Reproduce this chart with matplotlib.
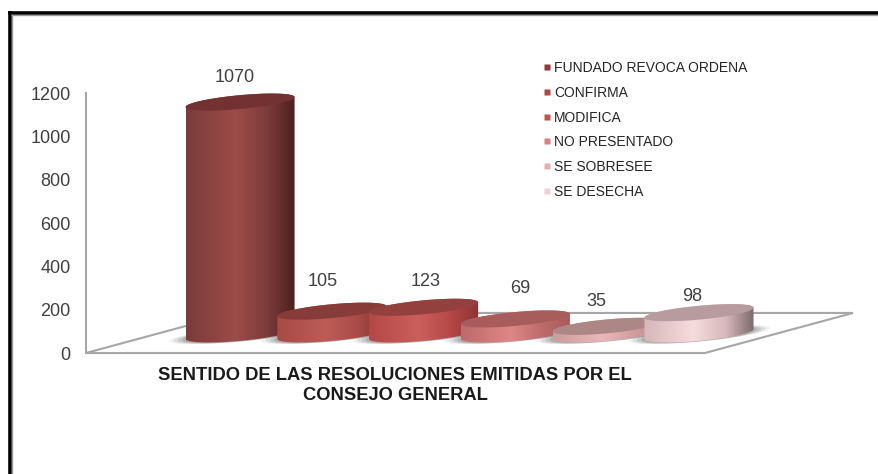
import numpy as np
import matplotlib
matplotlib.use('Agg')
import matplotlib.pyplot as plt
from matplotlib.colors import LinearSegmentedColormap
from matplotlib.lines import Line2D
from matplotlib.patches import PathPatch, Polygon
from matplotlib.path import Path

plt.rcParams['font.family'] = ['Liberation Sans', 'DejaVu Sans']

categories = ['FUNDADO REVOCA ORDENA', 'CONFIRMA', 'MODIFICA',
              'NO PRESENTADO', 'SE SOBRESEE', 'SE DESECHA']
values = [1070, 105, 123, 69, 35, 98]
y_ticks = [0, 200, 400, 600, 800, 1000, 1200]
axis_title = 'SENTIDO DE LAS RESOLUCIONES EMITIDAS POR EL\nCONSEJO GENERAL'

# colores: izquierda, centro, derecha, tapa, leyenda
body_left = ['#7a3b3a', '#a84a46', '#b34846', '#bd6a6a', '#cf9c9c', '#d6b7ba']
body_mid = ['#9d4c49', '#bd5c57', '#cc5f5c', '#df8787', '#eab8b8', '#f7dcdd']
body_right = ['#4c1f1c', '#7e3230', '#8c3331', '#a85a5a', '#b98a8a', '#7d6a6b']
top_colors = ['#733231', '#873c3a', '#93403e', '#a85c5b', '#ad8686', '#b89b9e']
legend_colors = ['#953735', '#b04643', '#c4504d', '#d98080', '#e8aeae', '#f0d0d2']

# ajuste fino de las etiquetas (pixeles)
label_dx = [-5, -9, 2, 5, -11, -7]
label_dy = [25, 30, 26, 30, 25, 16]

W, H = 879, 474
fig = plt.figure(figsize=(W / 100, H / 100), dpi=100)
ax = fig.add_axes([86 / W, (H - 353) / H, 767 / W, 260 / H])

x_lim = (-1.678, 6.678)
y_lim = (0, 1200)

base = 88      # centro de la base sobre el piso
half_w = 0.594
half_h = 32
tilt = 23


def ring(cx, cy, t, grow=1.0):
    return (cx + grow * half_w * np.cos(t),
            cy + half_h * np.sin(t) + grow * tilt * np.cos(t))


def draw_cylinder(i, value):
    z = 3 + i
    top = base + value
    t = np.linspace(0, 2 * np.pi, 120)

    # sombra difusa
    for grow, alpha in zip([1.30, 1.22, 1.14, 1.06], [0.08, 0.12, 0.16, 0.20]):
        xs, ys = ring(i, base - 3, t, grow)
        ax.add_patch(Polygon(np.column_stack([xs, ys]), closed=True, fc='#555555',
                             ec='none', alpha=alpha, zorder=2))

    t1 = np.linspace(np.pi, 2 * np.pi, 60)
    t2 = np.linspace(0, np.pi, 60)
    xb, yb = ring(i, base, t1)
    xt, yt = ring(i, top, t2)
    verts = np.column_stack([np.r_[xb, xt], np.r_[yb, yt]])
    clip = PathPatch(Path(np.r_[verts, verts[:1]], closed=True), fc='none', ec='none', zorder=z)
    ax.add_patch(clip)

    cmap = LinearSegmentedColormap.from_list(
        'body', [(0, body_left[i]), (0.45, body_mid[i]), (0.75, body_left[i]), (1, body_right[i])])
    grad = np.linspace(0, 1, 200).reshape(1, -1)
    im = ax.imshow(grad, cmap=cmap, aspect='auto', interpolation='bilinear', zorder=z,
                   extent=(i - half_w, i + half_w, base - half_h - tilt, top + half_h + tilt))
    im.set_clip_path(clip)

    xc, yc = ring(i, top, t)
    ax.add_patch(Polygon(np.column_stack([xc, yc]), closed=True, fc=top_colors[i], ec='none', zorder=z + 0.1))

    ax.annotate(str(value), (i, top), xytext=(label_dx[i] * 0.72, label_dy[i] * 0.72),
                textcoords='offset points', ha='center', va='center',
                fontsize=13, color='#404040', zorder=20)


# piso
ax.add_patch(Polygon([(0, 0), (0.807, 0), (1, 0.154), (0.193, 0.154)], closed=True,
                     transform=ax.transAxes, fc='white', ec='#a6a6a6', lw=1.5, zorder=1,
                     clip_on=False))

for i, v in enumerate(values):
    draw_cylinder(i, v)

ax.set_xlim(x_lim)
ax.set_ylim(y_lim)
ax.set_xticks([])
ax.set_yticks(y_ticks)
ax.tick_params(axis='y', length=0, pad=11, labelsize=13, labelcolor='#404040')
for side in ['top', 'right', 'bottom']:
    ax.spines[side].set_visible(False)
ax.spines['left'].set_color('#a6a6a6')
ax.spines['left'].set_linewidth(1.5)
ax.patch.set_alpha(0)

ax.set_xlabel(axis_title, x=(395 - 86) / 767, fontsize=13.2, fontweight='bold', color='#1a1a1a',
              labelpad=10, linespacing=1.22)

handles = [Line2D([], [], ls='none', marker='s', ms=5, mfc=c, mec='none') for c in legend_colors]
fig.legend(handles, categories, loc='upper left', bbox_to_anchor=(542 / W, 1 - 61 / H),
           frameon=False, fontsize=10, labelcolor='#262626', handlelength=0.7,
           handletextpad=0.15, labelspacing=0.775, borderpad=0, borderaxespad=0)

# marco de la imagen
fig.add_artist(Line2D([9.5 / W, 9.5 / W], [0, 1 - 11 / H], color='black', lw=2.6, solid_capstyle='butt'))
fig.add_artist(Line2D([8 / W, 1], [1 - 12.5 / H, 1 - 12.5 / H], color='black', lw=2.6, solid_capstyle='butt'))
fig.add_artist(Line2D([12 / W, 12 / W], [0, 1 - 14 / H], color='#9a9a9a', lw=1.0, solid_capstyle='butt'))
fig.add_artist(Line2D([11 / W, 1], [1 - 15 / H, 1 - 15 / H], color='#9a9a9a', lw=1.0, solid_capstyle='butt'))

fig.savefig('out.png', dpi=100)
